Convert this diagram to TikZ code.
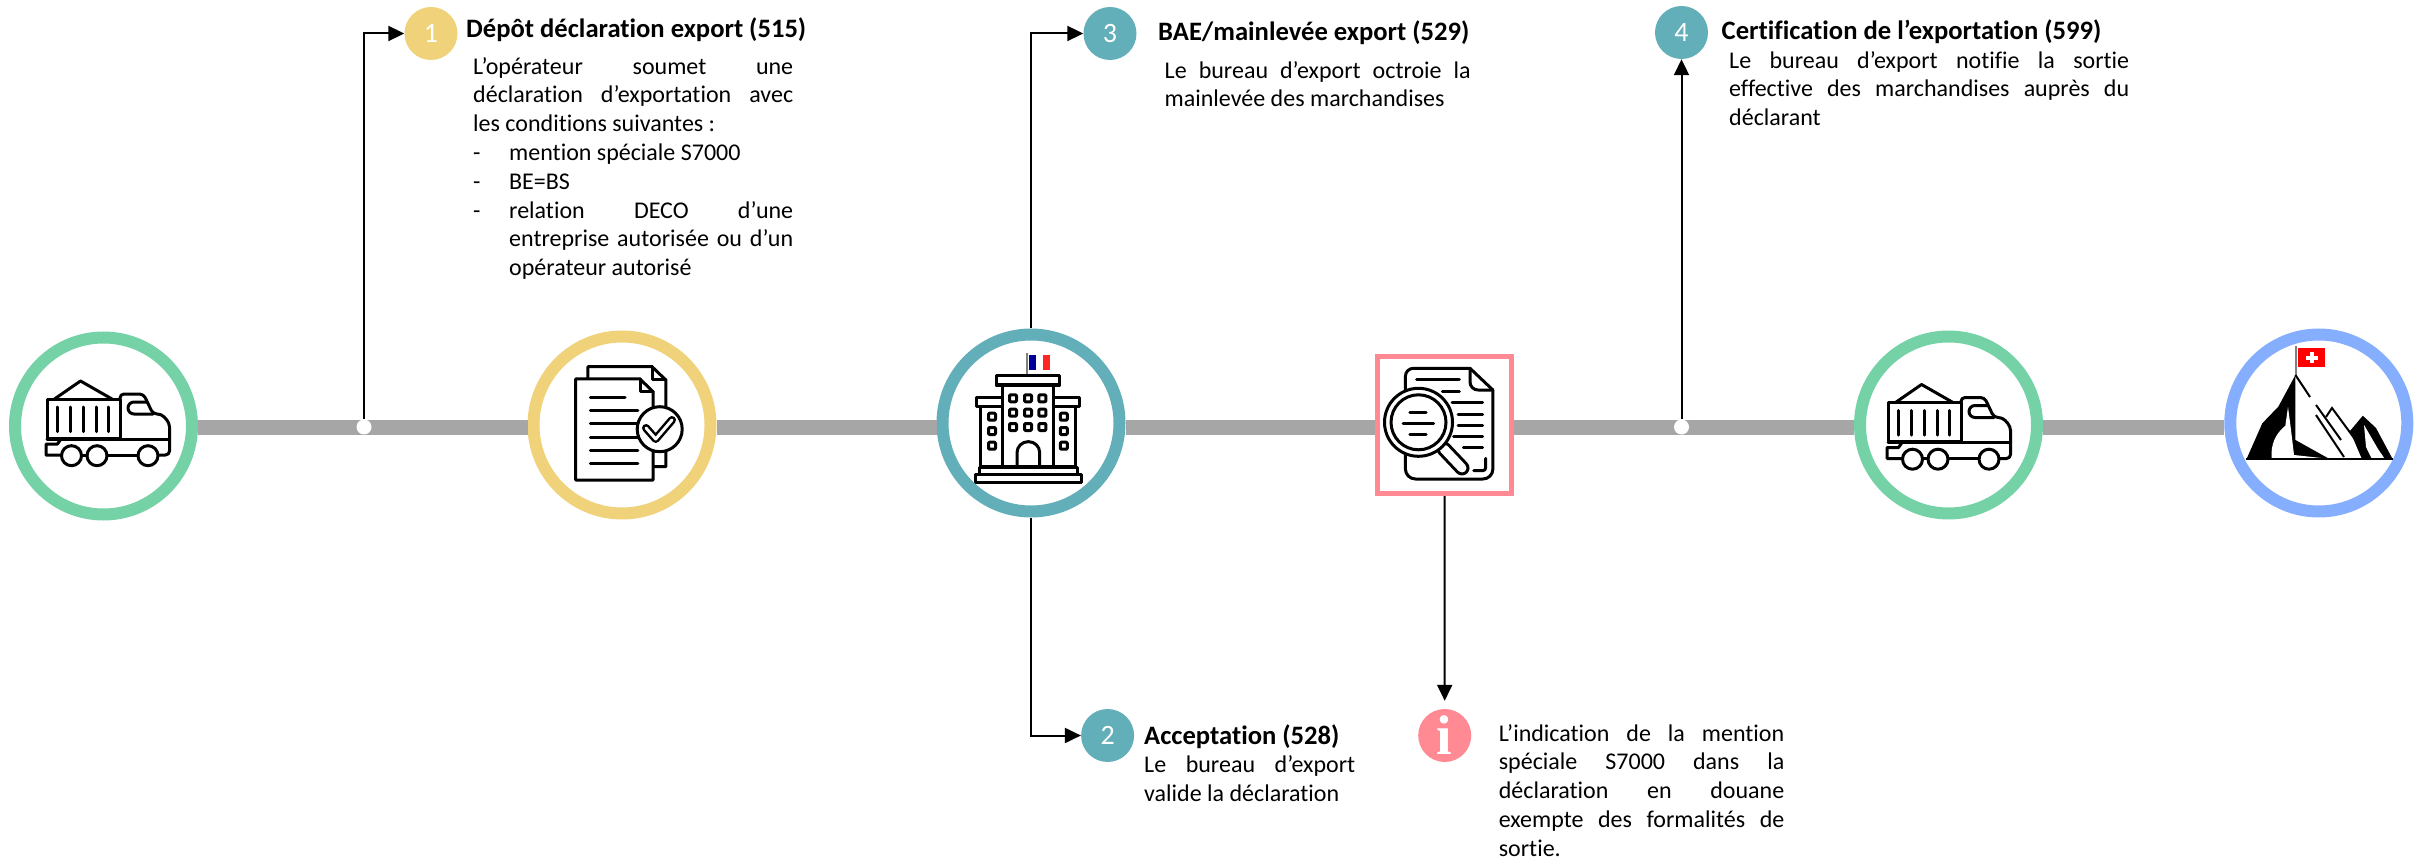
\documentclass[tikz,border=0pt]{standalone}
\usepackage{fontspec}
\setmainfont{Carlito}[Ligatures=NoCommon]
\newfontfamily\infofont{Liberation Serif}
\usetikzlibrary{positioning,arrows.meta}

\definecolor{greenring}{HTML}{74D2A6}
\definecolor{yellowring}{HTML}{F0D27A}
\definecolor{tealring}{HTML}{62AEB9}
\definecolor{pinkring}{HTML}{FF8A94}
\definecolor{bluering}{HTML}{86AEFF}
\definecolor{barcolor}{HTML}{A6A6A6}

\newcommand{\dashitem}{\par\hangindent=36pt\hangafter=1\makebox[36pt][l]{-}}

\tikzset{
	stopring/.style={circle, draw=#1, line width=12pt, fill=white, minimum size=177pt, inner sep=0pt},
	numdisc/.style={circle, fill=#1, text=white, minimum size=53pt, inner sep=0pt, font=\fontsize{28}{28}\selectfont},
	junction/.style={circle, fill=white, minimum size=15pt, inner sep=0pt},
	barline/.style={draw=barcolor, line width=15pt},
	flow/.style={line width=2pt, -{Triangle[length=16pt,width=15pt]}},
	steptitle/.style={anchor=base west, inner sep=0pt, font=\fontsize{26.6}{29}\selectfont\bfseries},
	stepbody/.style={anchor=north west, inner sep=0pt, text width=#1, align=justify,
		font=\fontsize{24}{28.8}\selectfont, execute at begin node=\strut},
	ink/.style={line width=3pt, line cap=round, line join=round},
	truckicon/.pic={
		\draw[ink] (-56.5,-27) rectangle (16.5,12);
		\draw[ink] (-49,-27) -- (-23,-45) -- (8.5,-27);
		\foreach \sx in {-46,-33,-20,-7.5,5.2}
			\draw[ink] (\sx,-19) -- (\sx,5.7);
		\draw[ink, rounded corners=4pt] (16.5,-27) -- (16.5,-32) -- (40,-32) -- (49.5,-12) -- (58,-12) -- (66,-3) -- (66,29) -- (55,29);
		\draw[ink, rounded corners=6pt] (49.5,-12) -- (24.5,-12) -- (24.5,-24) -- (43,-24);
		\draw[ink] (-56.5,13) -- (66,13);
		\draw[ink] (-42.5,13) -- (-46,18) -- (-57.5,18) -- (-57.5,29) -- (-42,29);
		\draw[ink] (-22,29) -- (-16.5,29);
		\draw[ink] (3.5,29) -- (34.5,29);
		\foreach \wx in {-32,-6.5,44.5}
			\draw[ink] (\wx,29.7) circle (10);
	}
}

\begin{document}
\begin{tikzpicture}[x=1pt, y=-1pt]
	\useasboundingbox (0,0) rectangle (2425,858);

	% stops along the bar
	\node[stopring=greenring]	(truckA)	at (103.5,426)	{};
	\node[stopring=yellowring, right=329.5pt of truckA, yshift=1pt]	(docs)	{};
	\node[stopring=tealring, right=220pt of docs, yshift=2pt]	(office)	{};
	\node[draw=pinkring, line width=5pt, minimum width=134pt, minimum height=137pt, fill=white, right=249.5pt of office, yshift=-2pt]	(review)	{};
	\node[stopring=greenring, right=340pt of review]	(truckB)	{};
	\node[stopring=bluering, right=181.3pt of truckB, yshift=2pt]	(peak)	{};
	\coordinate (barlevel) at (0,427);

	\draw[barline] (truckA.east |- barlevel) -- (docs.west |- barlevel);
	\draw[barline] (docs.east |- barlevel) -- (office.west |- barlevel);
	\draw[barline] (office.east |- barlevel) -- (review.west |- barlevel);
	\draw[barline] (review.east |- barlevel) -- (truckB.west |- barlevel);
	\draw[barline] (truckB.east |- barlevel) -- (peak.west |- barlevel);

	\node[junction]	(dotA)	at (364,427)	{};
	\node[junction]	(dotB)	at (1681.5,427)	{};

	% numbered steps
	\node[numdisc=yellowring]	(numA)	at (431,33.5)	{1};
	\node[numdisc=tealring]	(numB)	at (1107.6,735.5)	{2};
	\node[numdisc=tealring]	(numC)	at (1110,33.5)	{3};
	\node[numdisc=tealring]	(numD)	at (1681.5,32.5)	{4};
	\node[numdisc=pinkring, font=\infofont\bfseries\fontsize{56}{56}\selectfont]	(info)	at (1444.7,735.5)	{i};

	\draw[flow] (dotA.north) |- (numA.west);
	\draw[flow] (office.north) |- (numC.west);
	\draw[flow] (office.south) |- (numB.west);
	\draw[flow] (dotB.north) -- (numD.south);
	\draw[flow, shorten >=8pt] (review.south) -- (info.north);

	\node[steptitle]	(titleA)	at (466,38)	{Dépôt déclaration export (515)};
	\node[steptitle]	(titleB)	at (1144,744)	{Acceptation (528)};
	\node[steptitle]	(titleC)	at (1158,41)	{BAE/mainlevée export (529)};
	\node[steptitle]	(titleD)	at (1721.5,40)	{Certification de l’exportation (599)};

	\node[stepbody=320pt]	(bodyA)	at (473,53.8)	{L’opérateur soumet une\linebreak déclaration d’exportation avec\linebreak les conditions suivantes :%
		\dashitem mention spéciale S7000%
		\dashitem BE=BS%
		\dashitem relation DECO d’une\linebreak entreprise autorisée ou d’un\linebreak opérateur autorisé\par};
	\node[stepbody=211pt]	(bodyB)	at (1144,752.5)	{Le bureau d’export\linebreak valide la déclaration};
	\node[stepbody=306pt]	(bodyC)	at (1164.5,57.8)	{Le bureau d’export octroie la\linebreak mainlevée des marchandises};
	\node[stepbody=400pt]	(bodyD)	at (1729,47.8)	{Le bureau d’export notifie la sortie\linebreak effective des marchandises auprès du\linebreak déclarant};
	\node[stepbody=285.5pt]	(bodyE)	at (1498.6,720.8)	{L’indication de la mention\linebreak spéciale S7000 dans la\linebreak déclaration en douane\linebreak exempte des formalités de\linebreak sortie.};

	% icons
	\pic at (103.5,426) {truckicon};
	\pic at (1944.5,429.5) {truckicon};

	% document with check mark
	\draw[ink] (587.8,379) -- (587.8,366.7) -- (652,366.7) -- (665.8,380) -- (665.8,466.7) -- (653,466.7);
	\draw[ink] (652,366.7) -- (652,380) -- (665.8,380);
	\draw[ink, fill=white] (575.5,379) -- (640,379) -- (653,391.7) -- (653,480) -- (575.5,480) -- cycle;
	\draw[ink] (640,379) -- (640,391.7) -- (653,391.7);
	\draw[ink] (590.3,397) -- (625,397);
	\foreach \ly in {410.3,423.7,437,450.3,463.7}
		\draw[ink] (590.3,\ly) -- (637.8,\ly);
	\draw[ink, fill=white] (659.7,429.2) circle (22.5);
	\draw[line width=8pt, line join=round, line cap=round] (646,428) -- (655.7,439) -- (672,420);
	\draw[line width=3pt, white, line join=round, line cap=round] (646,428) -- (655.7,439) -- (672,420);

	% customs office with flag
	\draw[line width=1.5pt, gray] (1027,352.7) -- (1027,376);
	\fill[white] (1029,355) rectangle (1050,369.7);
	\fill[blue!60!black] (1029,355) rectangle (1036,369.7);
	\fill[red!80!pink] (1043,355) rectangle (1050,369.7);
	\draw[ink] (996,376) rectangle (1059.8,385);
	\draw[ink] (1002.7,385) rectangle (1053,466.7);
	\draw[ink] (976.8,397.3) rectangle (1002.7,406.7);
	\draw[ink] (1053,397.3) rectangle (1079.5,406.7);
	\draw[ink] (980.4,406.7) rectangle (1002.7,466.7);
	\draw[ink] (1053,406.7) rectangle (1075.4,466.7);
	\draw[ink] (979,467.3) rectangle (1077,474);
	\draw[ink] (975,474) rectangle (1081,482.7);
	\foreach \wx in {1013,1028,1042.4}
		\foreach \wy in {398.3,412.7,427}
			\draw[ink, rounded corners=1pt] (\wx-3.5,\wy-3.5) rectangle (\wx+3.5,\wy+3.5);
	\foreach \wx in {992,1063.8}
		\foreach \wy in {416.7,431,445.7}
			\draw[ink, rounded corners=1pt] (\wx-3.5,\wy-3.5) rectangle (\wx+3.5,\wy+3.5);
	\draw[ink, rounded corners=11pt] (1017,466.7) -- (1017,441.7) -- (1039.7,441.7) -- (1039.7,466.7);

	% sheet under magnifier
	\draw[ink, rounded corners=8pt] (1405.4,395) |- (1470,368.3);
	\draw[ink] (1470,368.3) -- (1492.9,390);
	\draw[ink, rounded corners=8pt] (1470,368.3) -- (1470,390) -- (1492.9,390);
	\draw[ink, rounded corners=10pt] (1492.9,390) |- (1405.4,479) -- (1405.4,452);
	\draw[ink] (1416.5,380) -- (1459.4,380);
	\draw[ink] (1442.4,391) -- (1459.4,391);
	\draw[ink] (1452,402.7) -- (1482.6,402.7);
	\draw[ink] (1458,414) -- (1482.6,414);
	\draw[ink] (1458,425.3) -- (1482.6,425.3);
	\draw[ink] (1453.6,436.3) -- (1482.6,436.3);
	\draw[ink] (1463.4,447.7) -- (1482.6,447.7);
	\draw[ink, rounded corners=3pt] (1485.7,458.3) -- (1485.7,470.7) -- (1473.7,470.7);
	\draw[line width=15pt, line cap=round] (1444,449) -- (1462,468);
	\draw[line width=9pt, white, line cap=round] (1444,449) -- (1462,468);
	\draw[ink, fill=white] (1418.5,422.3) circle (34);
	\draw[ink] (1418.5,422.3) circle (27.5);
	\draw[ink] (1409.8,412) -- (1426,412);
	\draw[ink] (1403,423.3) -- (1433.5,423.3);
	\draw[ink] (1409.8,434.7) -- (1426,434.7);

	% summit with swiss flag
	\draw[line width=1.5pt, gray] (2296.2,345.7) -- (2296.2,376);
	\fill[red] (2298.2,348.3) rectangle (2324.9,366.7);
	\fill[white] (2306,355.8) rectangle (2318,359.6);
	\fill[white] (2310,352.2) rectangle (2314,363.2);
	\fill (2295.4,375) -- (2278.3,406.7) -- (2262.3,423.3) -- (2246.4,459.3) -- (2392.7,459.3) -- (2376,428) -- (2362.8,415.7) -- (2350,431) -- (2362,459.3) -- (2330,459.3) -- (2295.4,440) -- cycle;
	\fill[white] (2271.5,453) .. controls (2272,440) and (2278,432) .. (2285,426) -- (2283,442) -- (2288,407) -- (2291,430) -- (2294,455) -- (2330,459) -- (2271.5,459) -- cycle;
	\fill[white] (2295.4,380) -- (2330,459.3) -- (2362,459.3) -- (2331,408) -- (2323,420) -- cycle;
	\fill[white] (2364,425) -- (2378,449) -- (2385,459.3) -- (2372,459.3) -- (2366,447) -- cycle;
	\draw[line width=2pt] (2295.4,375) -- (2310,397);
	\draw[line width=2pt] (2316,405) -- (2341,440);
	\draw[line width=2pt] (2316,415) -- (2344,457);
	\draw[line width=2pt] (2326,417) -- (2332,408) -- (2368,457);
	\draw[line width=2pt] (2246.4,459.3) -- (2392.7,459.3);
\end{tikzpicture}
\end{document}
